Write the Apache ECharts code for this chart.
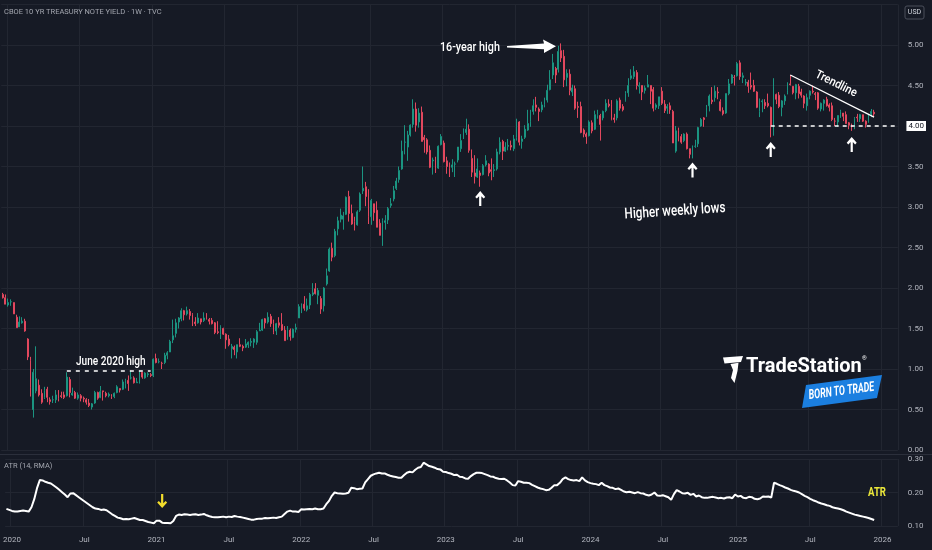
<!DOCTYPE html>
<html><head><meta charset="utf-8">
<script src="https://cdn.jsdelivr.net/npm/echarts@6/dist/echarts.min.js"></script>
<style>html,body{margin:0;padding:0;background:#161a25;}#c{width:932px;height:550px;}</style>
</head><body><div id="c"></div>
<script>
// ---- data ----
const firstWeek = '2019-12-23';   // Monday of first weekly bar
const totalWeeks = 321;           // category slots on the time axis
// weekly bars [open, high, low, close]
const ohlc2019 = [[1.92,1.94,1.87,1.88],[1.88,1.92,1.80,1.80]];
const ohlc2020 = [[1.79,1.87,1.77,1.82],[1.83,1.86,1.78,1.83],[1.82,1.82,1.68,1.68],[1.64,1.67,1.51,1.51],[1.52,1.65,1.52,1.58],[1.57,1.64,1.56,1.59],[1.59,1.62,1.46,1.47],[1.37,1.38,1.11,1.15],[1.10,1.15,0.66,0.77],[0.50,1.00,0.40,0.96],[0.73,1.28,0.70,0.88],[0.80,0.87,0.66,0.68],[0.70,0.75,0.57,0.59],[0.65,0.78,0.63,0.73],[0.75,0.78,0.59,0.65],[0.62,0.65,0.56,0.60],[0.62,0.67,0.58,0.62],[0.62,0.74,0.58,0.68],[0.69,0.74,0.60,0.64],[0.67,0.72,0.64,0.66],[0.68,0.72,0.63,0.65],[0.67,0.96,0.66,0.90],[0.87,0.90,0.65,0.71],[0.68,0.77,0.67,0.70],[0.71,0.73,0.63,0.64],[0.64,0.71,0.62,0.68],[0.67,0.69,0.60,0.64],[0.64,0.66,0.59,0.63],[0.62,0.64,0.56,0.59],[0.58,0.63,0.53,0.55],[0.53,0.58,0.50,0.57],[0.58,0.73,0.57,0.71],[0.71,0.72,0.62,0.64],[0.65,0.79,0.64,0.72],[0.73,0.73,0.61,0.72],[0.70,0.72,0.65,0.67],[0.67,0.71,0.65,0.69],[0.68,0.69,0.63,0.66],[0.66,0.71,0.64,0.70],[0.71,0.80,0.70,0.78],[0.76,0.76,0.71,0.74],[0.75,0.87,0.74,0.84],[0.82,0.88,0.76,0.86],[0.86,0.92,0.73,0.82],[0.89,0.98,0.87,0.89],[0.89,0.91,0.82,0.83],[0.83,0.89,0.83,0.84],[0.84,0.98,0.82,0.97],[0.96,0.96,0.88,0.90],[0.89,0.96,0.88,0.95],[0.93,0.96,0.90,0.94],[0.93,0.95,0.90,0.92]];
const ohlc2021 = [[0.92,1.13,0.90,1.12],[1.13,1.19,1.07,1.08],[1.09,1.13,1.07,1.09],[1.07,1.09,1.00,1.07],[1.08,1.20,1.06,1.17],[1.17,1.22,1.12,1.20],[1.21,1.36,1.21,1.34],[1.36,1.61,1.32,1.41],[1.44,1.62,1.39,1.57],[1.58,1.64,1.50,1.63],[1.62,1.75,1.59,1.72],[1.72,1.73,1.60,1.67],[1.68,1.77,1.66,1.72],[1.71,1.74,1.61,1.66],[1.67,1.69,1.53,1.58],[1.58,1.64,1.53,1.56],[1.57,1.69,1.56,1.63],[1.62,1.62,1.55,1.58],[1.60,1.70,1.58,1.63],[1.64,1.69,1.61,1.62],[1.61,1.63,1.55,1.59],[1.60,1.63,1.55,1.56],[1.57,1.58,1.43,1.45],[1.46,1.59,1.43,1.45],[1.43,1.54,1.37,1.52],[1.50,1.51,1.42,1.43],[1.43,1.44,1.25,1.36],[1.37,1.42,1.28,1.30],[1.25,1.31,1.13,1.28],[1.27,1.29,1.17,1.24],[1.21,1.30,1.13,1.30],[1.30,1.38,1.27,1.28],[1.28,1.30,1.22,1.26],[1.27,1.37,1.26,1.31],[1.30,1.34,1.26,1.33],[1.33,1.38,1.28,1.34],[1.33,1.38,1.26,1.37],[1.33,1.48,1.30,1.46],[1.47,1.57,1.47,1.48],[1.48,1.62,1.47,1.61],[1.62,1.63,1.50,1.57],[1.58,1.70,1.56,1.64],[1.65,1.68,1.52,1.56],[1.56,1.61,1.43,1.45],[1.47,1.57,1.42,1.56],[1.57,1.64,1.51,1.54],[1.55,1.69,1.47,1.48],[1.48,1.53,1.35,1.35],[1.37,1.53,1.36,1.49],[1.48,1.50,1.35,1.40],[1.39,1.50,1.38,1.49],[1.49,1.56,1.45,1.51]];
const ohlc2022 = [[1.63,1.80,1.63,1.77],[1.78,1.81,1.69,1.79],[1.80,1.90,1.72,1.75],[1.73,1.87,1.71,1.78],[1.79,1.94,1.74,1.92],[1.92,2.06,1.90,1.94],[1.99,2.06,1.92,1.93],[1.91,2.00,1.80,1.97],[1.87,1.90,1.68,1.74],[1.78,2.01,1.71,2.00],[2.05,2.24,2.03,2.15],[2.21,2.50,2.20,2.48],[2.49,2.56,2.33,2.38],[2.40,2.73,2.38,2.70],[2.73,2.88,2.65,2.83],[2.85,2.98,2.81,2.90],[2.85,2.94,2.72,2.89],[2.91,3.13,2.90,3.12],[3.13,3.20,2.82,2.92],[2.92,3.03,2.78,2.79],[2.82,2.88,2.71,2.74],[2.78,2.96,2.77,2.94],[2.96,3.18,2.94,3.16],[3.20,3.50,3.16,3.23],[3.25,3.31,3.01,3.13],[3.16,3.22,2.79,2.88],[2.88,3.10,2.78,3.08],[3.04,3.04,2.83,2.93],[2.96,3.07,2.75,2.75],[2.80,2.85,2.65,2.65],[2.62,2.86,2.52,2.83],[2.81,2.90,2.72,2.83],[2.84,3.00,2.79,2.98],[3.02,3.11,2.99,3.04],[3.10,3.26,3.07,3.20],[3.23,3.36,3.21,3.32],[3.34,3.50,3.30,3.45],[3.47,3.82,3.46,3.69],[3.80,4.01,3.65,3.80],[3.74,3.94,3.57,3.89],[3.89,4.02,3.87,4.01],[4.02,4.33,3.98,4.21],[4.21,4.29,3.93,4.01],[4.05,4.22,3.98,4.16],[4.17,4.24,3.81,3.81],[3.86,3.89,3.67,3.83],[3.83,3.85,3.65,3.68],[3.70,3.76,3.48,3.49],[3.57,3.61,3.40,3.58],[3.58,3.62,3.42,3.48],[3.48,3.76,3.47,3.75],[3.77,3.90,3.76,3.87]];
const ohlc2023 = [[3.79,3.82,3.55,3.56],[3.57,3.62,3.41,3.50],[3.49,3.55,3.37,3.48],[3.49,3.59,3.43,3.52],[3.53,3.56,3.37,3.53],[3.58,3.70,3.55,3.74],[3.72,3.90,3.68,3.82],[3.84,3.97,3.86,3.95],[3.92,4.09,3.89,3.96],[3.96,4.02,3.67,3.70],[3.60,3.71,3.37,3.43],[3.42,3.64,3.29,3.38],[3.37,3.60,3.36,3.47],[3.42,3.45,3.25,3.39],[3.40,3.53,3.39,3.51],[3.52,3.64,3.50,3.57],[3.53,3.54,3.38,3.42],[3.46,3.60,3.33,3.44],[3.45,3.53,3.37,3.46],[3.47,3.72,3.45,3.68],[3.68,3.86,3.65,3.80],[3.81,3.83,3.58,3.69],[3.69,3.80,3.68,3.74],[3.75,3.84,3.70,3.76],[3.76,3.82,3.70,3.74],[3.72,3.89,3.69,3.84],[3.86,4.09,3.82,4.06],[4.05,4.06,3.76,3.80],[3.81,3.88,3.72,3.84],[3.86,4.01,3.84,3.96],[3.95,4.20,3.94,4.03],[4.06,4.20,3.99,4.16],[4.18,4.33,4.14,4.25],[4.26,4.36,4.18,4.23],[4.21,4.23,4.06,4.18],[4.20,4.30,4.17,4.26],[4.27,4.35,4.23,4.32],[4.32,4.51,4.29,4.44],[4.45,4.69,4.44,4.57],[4.63,4.89,4.58,4.78],[4.71,4.73,4.53,4.63],[4.70,4.99,4.66,4.92],[4.93,5.02,4.79,4.84],[4.86,4.94,4.48,4.57],[4.60,4.70,4.49,4.65],[4.64,4.70,4.38,4.44],[4.42,4.51,4.37,4.47],[4.46,4.50,4.20,4.22],[4.24,4.30,4.10,4.23],[4.24,4.30,3.91,3.92],[3.95,3.97,3.86,3.90],[3.90,3.92,3.78,3.87]];
const ohlc2024 = [[3.88,4.07,3.87,4.05],[4.04,4.07,3.91,3.94],[3.96,4.19,3.95,4.14],[4.13,4.20,4.09,4.14],[4.13,4.15,3.82,4.02],[4.10,4.19,4.07,4.18],[4.19,4.33,4.17,4.28],[4.27,4.33,4.23,4.25],[4.26,4.32,4.07,4.08],[4.10,4.15,4.04,4.08],[4.10,4.33,4.07,4.31],[4.32,4.35,4.19,4.22],[4.24,4.27,4.18,4.20],[4.32,4.43,4.30,4.40],[4.41,4.59,4.36,4.50],[4.59,4.70,4.57,4.62],[4.61,4.74,4.58,4.67],[4.66,4.69,4.45,4.50],[4.49,4.54,4.40,4.50],[4.50,4.50,4.32,4.42],[4.44,4.50,4.40,4.47],[4.48,4.63,4.48,4.51],[4.50,4.50,4.27,4.43],[4.45,4.48,4.18,4.22],[4.23,4.28,4.20,4.26],[4.25,4.36,4.21,4.36],[4.43,4.48,4.26,4.28],[4.27,4.32,4.16,4.19],[4.22,4.27,4.15,4.24],[4.25,4.29,4.15,4.20],[4.18,4.20,3.79,3.79],[3.69,4.00,3.67,3.94],[3.94,3.98,3.81,3.89],[3.87,3.90,3.78,3.80],[3.82,3.91,3.80,3.90],[3.90,3.92,3.71,3.72],[3.72,3.72,3.60,3.65],[3.63,3.76,3.60,3.74],[3.75,3.83,3.73,3.75],[3.78,3.99,3.74,3.98],[4.00,4.10,3.99,4.08],[4.10,4.11,3.99,4.08],[4.12,4.26,4.11,4.23],[4.25,4.39,4.18,4.37],[4.32,4.48,4.27,4.30],[4.35,4.50,4.30,4.43],[4.42,4.48,4.33,4.41],[4.30,4.33,4.18,4.19],[4.19,4.23,4.13,4.15],[4.16,4.40,4.15,4.40],[4.40,4.58,4.38,4.52],[4.53,4.64,4.52,4.63],[4.60,4.63,4.50,4.60]];
const ohlc2025 = [[4.62,4.79,4.61,4.77],[4.78,4.81,4.57,4.61],[4.60,4.66,4.53,4.62],[4.53,4.58,4.50,4.54],[4.54,4.57,4.41,4.49],[4.50,4.66,4.45,4.48],[4.50,4.57,4.42,4.43],[4.42,4.43,4.22,4.23],[4.18,4.34,4.11,4.32],[4.30,4.33,4.17,4.31],[4.29,4.33,4.21,4.25],[4.28,4.40,4.23,4.25],[4.23,4.24,3.86,4.01],[3.99,4.59,3.88,4.49],[4.39,4.40,4.27,4.33],[4.38,4.42,4.22,4.24],[4.23,4.32,4.12,4.31],[4.31,4.39,4.26,4.37],[4.41,4.54,4.39,4.44],[4.52,4.63,4.50,4.51],[4.49,4.49,4.39,4.41],[4.41,4.52,4.33,4.51],[4.49,4.52,4.34,4.40],[4.42,4.46,4.35,4.38],[4.37,4.38,4.22,4.28],[4.25,4.40,4.19,4.35],[4.38,4.44,4.33,4.43],[4.43,4.50,4.40,4.42],[4.40,4.42,4.32,4.39],[4.41,4.42,4.20,4.22],[4.21,4.29,4.18,4.28],[4.28,4.33,4.19,4.32],[4.33,4.36,4.24,4.25],[4.26,4.28,4.18,4.23],[4.25,4.29,4.06,4.08],[4.06,4.10,4.00,4.06],[4.05,4.13,3.99,4.13],[4.14,4.20,4.10,4.18],[4.16,4.16,4.06,4.12],[4.14,4.18,4.03,4.03],[4.04,4.05,3.96,4.01],[4.00,4.03,3.94,4.00],[4.00,4.11,3.96,4.09],[4.11,4.15,4.05,4.10],[4.09,4.15,4.05,4.14],[4.14,4.14,4.05,4.06],[4.06,4.07,3.98,4.02],[4.05,4.15,4.04,4.14],[4.15,4.21,4.11,4.18],[4.17,4.20,4.11,4.15]];
// ATR(14, RMA), one value per weekly bar
const atr2019 = [0.151,0.148];
const atr2020 = [0.145,0.143,0.143,0.145,0.146,0.145,0.143,0.156,0.180,0.213,0.237,0.236,0.232,0.229,0.227,0.221,0.215,0.208,0.201,0.194,0.186,0.197,0.198,0.192,0.186,0.180,0.174,0.168,0.162,0.156,0.152,0.151,0.148,0.149,0.147,0.141,0.135,0.130,0.125,0.123,0.120,0.121,0.120,0.122,0.124,0.121,0.118,0.118,0.115,0.112,0.110,0.108];
const atr2021 = [0.116,0.116,0.110,0.109,0.109,0.108,0.115,0.130,0.134,0.133,0.135,0.134,0.133,0.134,0.135,0.133,0.134,0.136,0.132,0.129,0.127,0.126,0.126,0.127,0.128,0.126,0.128,0.127,0.130,0.128,0.127,0.125,0.123,0.121,0.119,0.119,0.121,0.122,0.122,0.124,0.123,0.124,0.125,0.124,0.126,0.128,0.136,0.143,0.146,0.143,0.143,0.142];
const atr2022 = [0.150,0.149,0.150,0.151,0.150,0.152,0.150,0.150,0.152,0.165,0.175,0.190,0.200,0.198,0.197,0.196,0.197,0.199,0.214,0.213,0.210,0.211,0.212,0.230,0.240,0.250,0.254,0.257,0.259,0.257,0.257,0.253,0.250,0.248,0.246,0.244,0.244,0.252,0.259,0.262,0.260,0.268,0.274,0.276,0.289,0.284,0.279,0.277,0.274,0.270,0.269,0.262];
const atr2023 = [0.261,0.258,0.256,0.252,0.253,0.247,0.246,0.242,0.241,0.249,0.255,0.259,0.259,0.258,0.255,0.252,0.248,0.247,0.243,0.241,0.240,0.241,0.236,0.230,0.222,0.221,0.234,0.232,0.229,0.229,0.228,0.223,0.219,0.215,0.212,0.210,0.207,0.208,0.214,0.222,0.222,0.229,0.240,0.245,0.240,0.237,0.236,0.237,0.234,0.245,0.236,0.231];
const atr2024 = [0.228,0.226,0.225,0.222,0.229,0.222,0.219,0.215,0.214,0.210,0.212,0.208,0.203,0.201,0.202,0.200,0.198,0.201,0.198,0.197,0.193,0.191,0.194,0.200,0.191,0.190,0.192,0.189,0.186,0.178,0.195,0.207,0.203,0.198,0.197,0.199,0.193,0.196,0.188,0.191,0.186,0.184,0.184,0.186,0.187,0.185,0.183,0.184,0.182,0.185,0.186,0.183,0.194];
const atr2025 = [0.188,0.190,0.184,0.183,0.187,0.186,0.181,0.180,0.182,0.188,0.187,0.188,0.185,0.229,0.226,0.222,0.219,0.215,0.212,0.208,0.205,0.203,0.200,0.195,0.190,0.186,0.181,0.177,0.174,0.170,0.167,0.165,0.162,0.160,0.156,0.154,0.152,0.150,0.147,0.143,0.140,0.137,0.134,0.132,0.130,0.128,0.126,0.124,0.121,0.118];
const monthLabel = {1: null, 7: 'Jul'};   // null -> show year
const priceRange = {min: 0, max: 5.5, step: 0.5};
const atrRange = {min: 0.1, max: 0.3, step: 0.1};
// annotation anchors (week index from first bar, value)
const juneHigh = {from: 23, to: 53, value: 0.975};
const support = {from: 275, to: 320, value: 4.00};
const trend = {from: [282, 4.63], to: [312, 4.11]};
const lowArrows = [[171, 3.105], [247, 3.457], [275, 3.71], [304, 3.772]];
const atrArrow = [56, 0.1746];

// ---- build ----
const cats = [];
const d0 = Date.parse(firstWeek + 'T00:00:00Z');
for (let i = 0; i < totalWeeks; i++) cats.push(new Date(d0 + i * 7 * 864e5).toISOString().slice(0, 10));
const isLbl = (v) => { const m = +v.slice(5, 7), d = +v.slice(8, 10); return (m === 1 || m === 7) && d <= 7; };
const fmtLbl = (v) => { const m = +v.slice(5, 7); return monthLabel[m] == null ? v.slice(0, 4) : monthLabel[m]; };
const bars = [].concat(ohlc2019, ohlc2020, ohlc2021, ohlc2022, ohlc2023, ohlc2024, ohlc2025).map(b => [b[0], b[3], b[2], b[1]]);
const atr = [].concat(atr2019, atr2020, atr2021, atr2022, atr2023, atr2024, atr2025);

const UP = '#1b9481', DOWN = '#e2485e', GRID = '#222631', TXT = '#b2b5be';
const AX_FONT = 'Roboto';
const upArrow = 'path://M5 0 L10 5.5 L8.4 7.1 L6.1 4.8 L6.1 14 L3.9 14 L3.9 4.8 L1.6 7.1 L0 5.5 Z';

// condensed annotation text helper (Roboto squeezed horizontally)
function note(text, x, y, font, sx, opts) {
  opts = opts || {};
  return {type: 'text', z: 100, x: x, y: y, rotation: opts.rot || 0, scaleX: sx, scaleY: 1,
          style: {text: text, fill: opts.fill || '#ffffff', font: font, align: opts.align || 'left', verticalAlign: 'middle'}};
}

const chart = echarts.init(document.getElementById('c'), null, {renderer: 'canvas'});
const lblCommon = {color: TXT, fontSize: 8, fontFamily: AX_FONT};
const graphics = [
  {type: 'line', shape: {x1: 0, y1: 454.5, x2: 932, y2: 454.5}, style: {stroke: '#2b2f3b', lineWidth: 1}},
  {type: 'text', x: 4, y: 12, style: {text: 'CBOE 10 YR TREASURY NOTE YIELD · 1W · TVC', fill: '#a3a6af', font: '7.5px Roboto', verticalAlign: 'middle'}},
  {type: 'text', x: 4, y: 466.5, style: {text: 'ATR (14, RMA)', fill: '#a3a6af', font: '7.5px Roboto', verticalAlign: 'middle'}},
  {type: 'rect', shape: {x: 905, y: 6, width: 19, height: 13, r: 2}, style: {fill: 'none', stroke: '#4a4e5a', lineWidth: 1}},
  {type: 'text', x: 914.5, y: 12.5, style: {text: 'USD', fill: '#d1d4dc', font: '7px Roboto', align: 'center', verticalAlign: 'middle'}},
  note('16-year high', 440, 47.5, '500 12.5px Roboto', 0.86),
  {type: 'polygon', shape: {points: [[507, 46], [544, 43.6], [543, 39.5], [556, 46.2], [544, 53], [544, 49.2], [507, 47.4]]}, style: {fill: '#ffffff'}},
  note('June 2020 high', 76, 361.5, '500 12px Roboto', 0.84),
  note('Higher weekly lows', 675, 211.5, '500 15px Roboto', 0.78, {align: 'center', rot: 0.066}),
  note('Trendline', 836, 84, '500 12px Roboto', 0.9, {align: 'center', rot: -0.46}),
  note('ATR', 877, 493, 'bold 12px Roboto', 0.8, {align: 'center', fill: '#ece83a'}),
  // TradeStation logo
  {type: 'polygon', shape: {points: [[723, 357.5], [743, 356], [741, 362], [724.5, 363.5]]}, style: {fill: '#ffffff'}},
  {type: 'polygon', shape: {points: [[730.5, 364], [738.5, 362.8], [737.5, 371], [734.5, 383], [731, 378], [733, 370]]}, style: {fill: '#ffffff'}},
  {type: 'text', x: 746, y: 367, style: {text: 'TradeStation', fill: '#ffffff', font: 'bold 20px Roboto', verticalAlign: 'middle'}},
  {type: 'text', x: 862, y: 358, style: {text: '®', fill: '#ffffff', font: '6px Roboto', verticalAlign: 'middle'}},
  {type: 'polygon', shape: {points: [[806, 385], [882, 375], [877, 398], [802, 408]]}, style: {fill: '#1b7fe0'}},
  note('BORN TO TRADE', 841.5, 391.5, 'italic bold 13.5px Roboto', 0.66, {align: 'center', rot: 0.13})
].map(g => Object.assign({z: 100}, g));

chart.setOption({
  backgroundColor: '#161a25',
  animation: false,
  grid: [
    {left: 1.2, right: 34.2, top: 4.5, height: 445.5},
    {left: 1.2, right: 34.2, top: 459, height: 67}
  ],
  xAxis: [
    {type: 'category', gridIndex: 0, data: cats, boundaryGap: true,
     axisLine: {show: false}, axisTick: {show: false}, axisLabel: {show: false},
     splitLine: {show: true, interval: (i, v) => isLbl(v), lineStyle: {color: GRID, width: 1}}},
    {type: 'category', gridIndex: 1, data: cats, boundaryGap: true,
     axisLine: {show: false}, axisTick: {show: false},
     axisLabel: Object.assign({show: true, interval: (i, v) => isLbl(v), formatter: fmtLbl, margin: 10}, lblCommon),
     splitLine: {show: true, interval: (i, v) => isLbl(v), lineStyle: {color: GRID, width: 1}}}
  ],
  yAxis: [
    {type: 'value', gridIndex: 0, position: 'right', min: priceRange.min, max: priceRange.max, interval: priceRange.step,
     axisLine: {show: false}, axisTick: {show: false},
     axisLabel: Object.assign({formatter: v => v.toFixed(2), showMaxLabel: false, margin: 10}, lblCommon),
     splitLine: {lineStyle: {color: GRID, width: 1}}},
    {type: 'value', gridIndex: 1, position: 'right', min: atrRange.min, max: atrRange.max, interval: atrRange.step,
     axisLine: {show: false}, axisTick: {show: false},
     axisLabel: Object.assign({formatter: v => v.toFixed(2), margin: 10}, lblCommon),
     splitLine: {lineStyle: {color: GRID, width: 1}}}
  ],
  series: [
    {type: 'candlestick', xAxisIndex: 0, yAxisIndex: 0, data: bars, barWidth: 1.4,
     itemStyle: {color: UP, color0: DOWN, borderColor: UP, borderColor0: DOWN, borderWidth: 1},
     markLine: {silent: true, symbol: ['none', 'none'], animation: false,
       data: [
         [{coord: [juneHigh.from, juneHigh.value], lineStyle: {color: '#ffffff', width: 1.5, type: [4, 5]}, label: {show: false}},
          {coord: [juneHigh.to, juneHigh.value]}],
         [{coord: [support.from, support.value], lineStyle: {color: '#ffffff', width: 1.5, type: [4, 4]},
           label: {show: true, position: 'end', formatter: support.value.toFixed(2), backgroundColor: '#ffffff', color: '#131722',
                   fontSize: 8, fontFamily: AX_FONT, padding: [1, 2], distance: 10}},
          {coord: [support.to, support.value]}],
         [{coord: trend.from, lineStyle: {color: '#ffffff', width: 1.3, type: 'solid'}, label: {show: false}},
          {coord: trend.to}]
       ]},
     markPoint: {silent: true, symbol: upArrow, symbolSize: [10, 15], itemStyle: {color: '#ffffff'}, label: {show: false},
       data: lowArrows.map(a => ({coord: a}))}
    },
    {type: 'line', xAxisIndex: 1, yAxisIndex: 1, data: atr, symbol: 'none', lineStyle: {color: '#ffffff', width: 2},
     markPoint: {silent: true, symbol: upArrow, symbolRotate: 180, symbolSize: [10, 14], itemStyle: {color: '#f2dc2c'}, label: {show: false},
       data: [{coord: atrArrow}]}}
  ],
  graphic: graphics
});
if (bars.length !== 313 || atr.length !== 313) {
  chart.setOption({graphic: [{type: 'text', x: 300, y: 250, style: {text: 'LEN ' + bars.length + ' ' + atr.length, fill: 'red', font: '20px Roboto'}}]});
}
</script>
</body></html>
